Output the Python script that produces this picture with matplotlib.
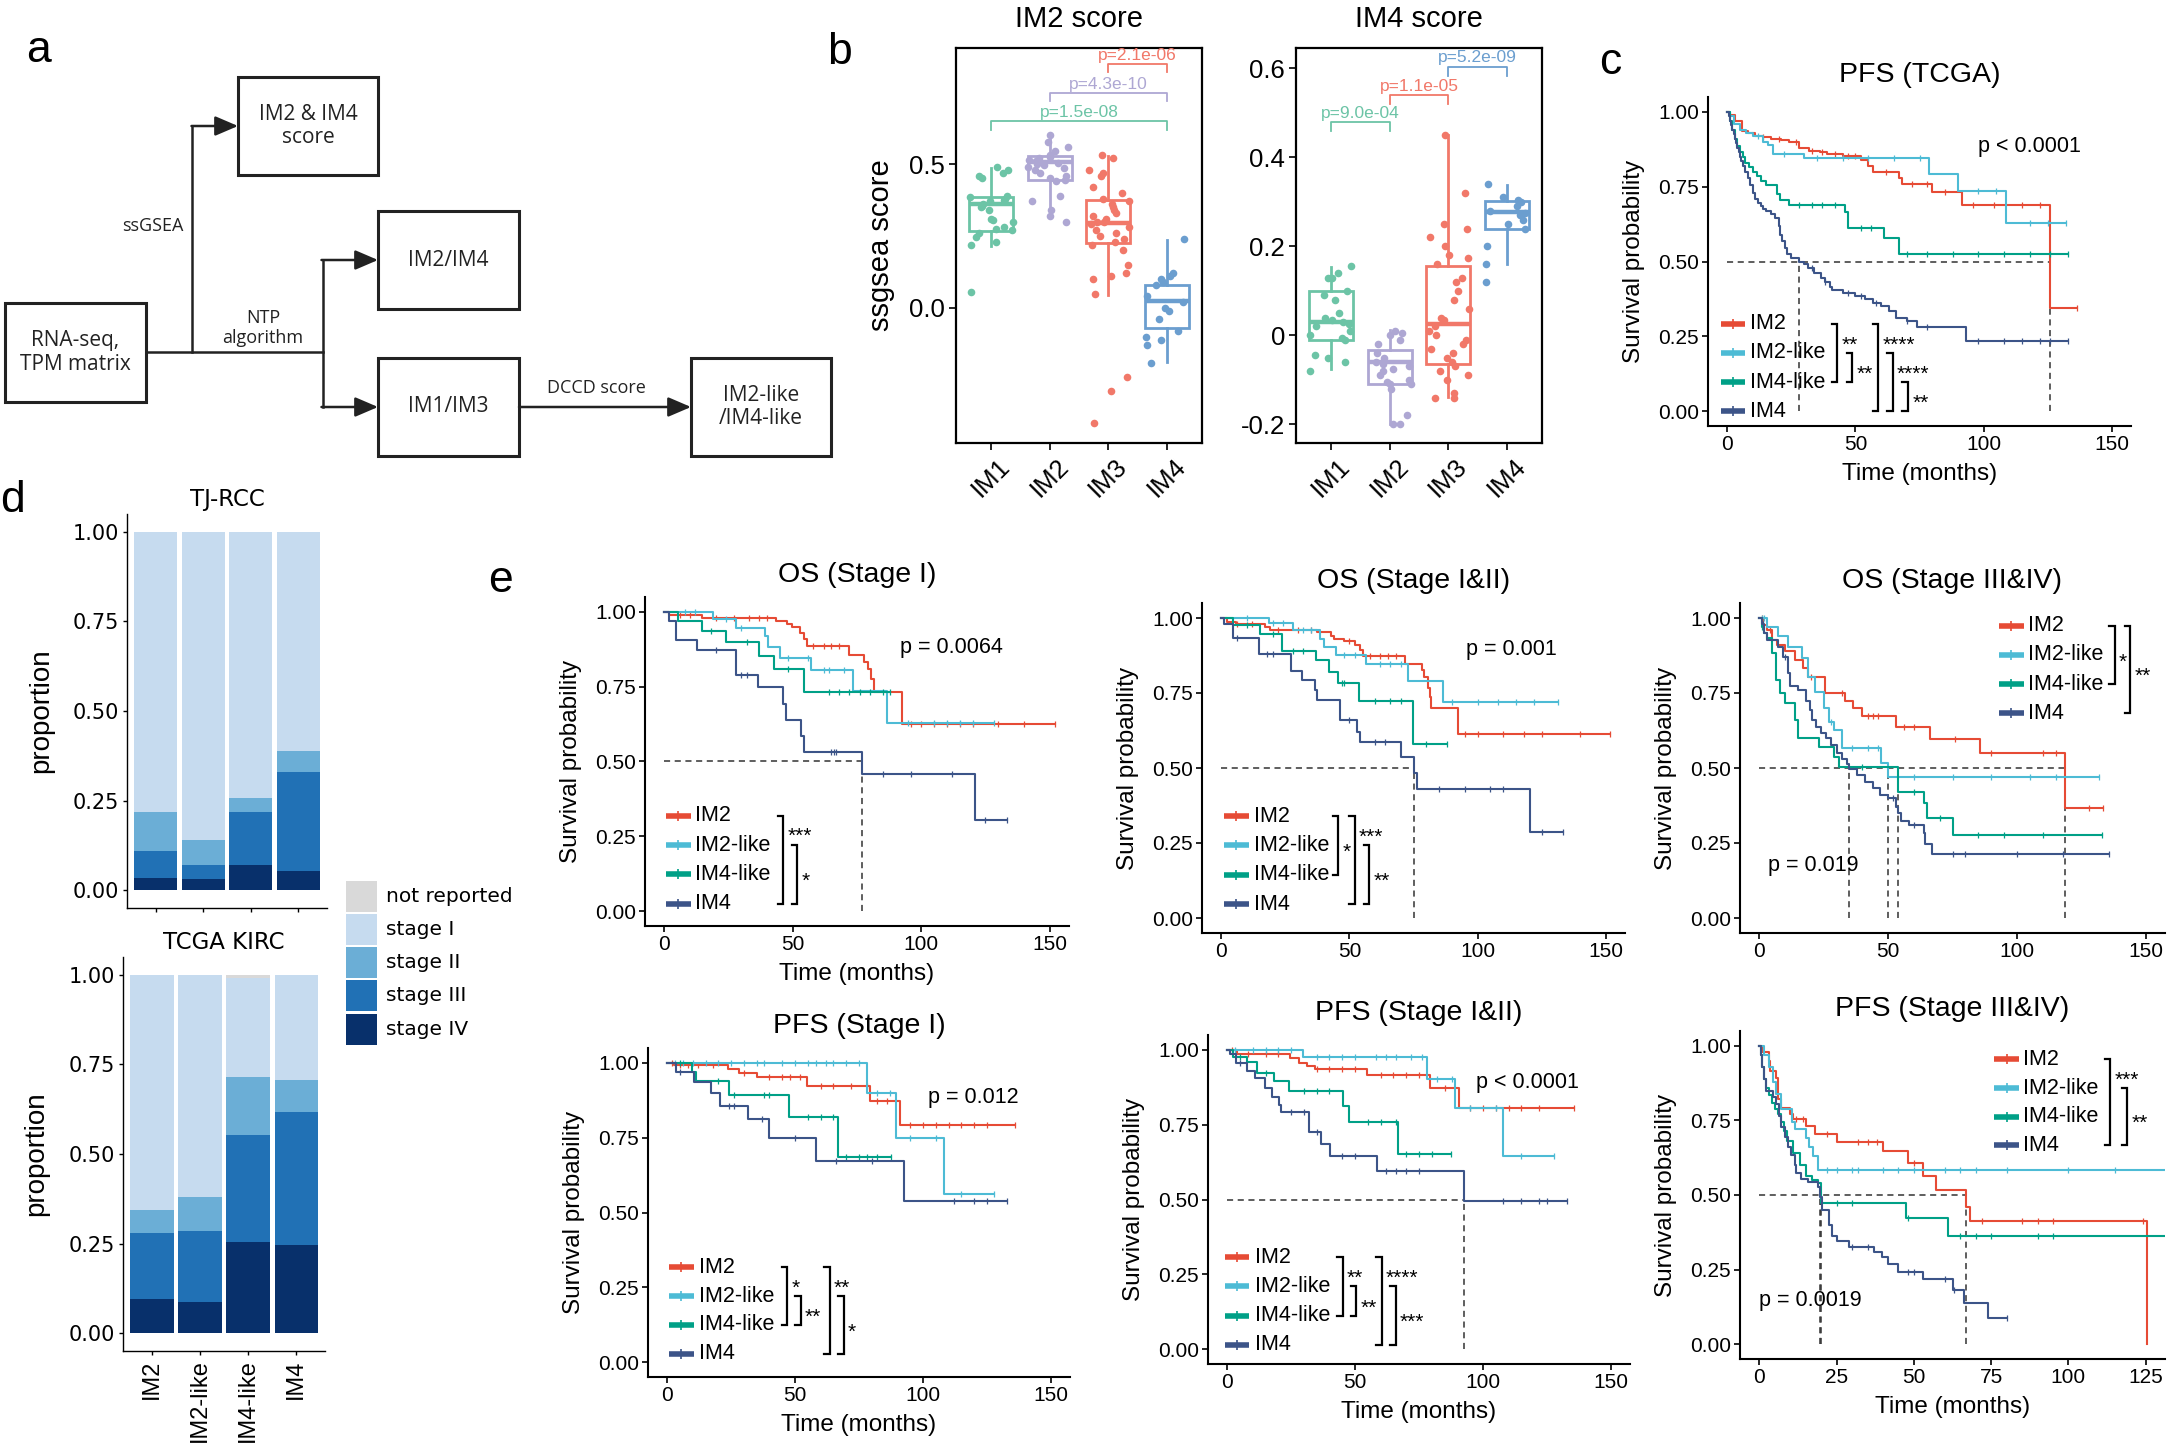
import numpy as np
import matplotlib
matplotlib.use("Agg")
import matplotlib.pyplot as plt
from matplotlib.patches import Rectangle

W, H = 2168, 1452
plt.rcParams['font.family'] = ['Liberation Sans', 'DejaVu Sans']
plt.rcParams['axes.linewidth'] = 1.3

# ---------------- panel b data ----------------
b_groups = ['IM1', 'IM2', 'IM3', 'IM4']
b_colors = ['#6CC4A6', '#AEA7D3', '#F17869', '#6B9ECF']

im2_points = [
    [0.49, 0.48, 0.47, 0.46, 0.45, 0.39, 0.385, 0.38, 0.375, 0.37, 0.36, 0.355, 0.35,
     0.34, 0.31, 0.305, 0.30, 0.28, 0.275, 0.27, 0.26, 0.245, 0.23, 0.22, 0.055],
    [0.60, 0.575, 0.56, 0.545, 0.53, 0.525, 0.52, 0.515, 0.51, 0.505, 0.50, 0.495, 0.49,
     0.485, 0.48, 0.47, 0.46, 0.45, 0.445, 0.44, 0.39, 0.37, 0.34, 0.32, 0.30],
    [0.53, 0.52, 0.48, 0.47, 0.46, 0.42, 0.40, 0.38, 0.37, 0.36, 0.35, 0.34, 0.33, 0.32,
     0.31, 0.30, 0.30, 0.29, 0.28, 0.27, 0.26, 0.25, 0.24, 0.23, 0.22, 0.20, 0.15, 0.12,
     0.11, 0.10, 0.05, -0.24, -0.29, -0.40],
    [0.24, 0.12, 0.11, 0.10, 0.09, 0.08, 0.04, 0.02, 0.0, -0.01, -0.04, -0.08, -0.10,
     -0.11, -0.13, -0.19],
]
im2_q1 = [0.268, 0.446, 0.226, -0.069]
im2_med = [0.362, 0.506, 0.295, 0.023]
im2_q3 = [0.385, 0.529, 0.376, 0.079]
im2_lo = [0.214, 0.347, 0.046, -0.189]
im2_hi = [0.486, 0.596, 0.527, 0.237]
im2_tests = [(1, 4, 'p=1.5e-08'), (2, 4, 'p=4.3e-10'), (3, 4, 'p=2.1e-06')]

im4_points = [
    [0.155, 0.14, 0.13, 0.13, 0.10, 0.09, 0.08, 0.05, 0.04, 0.035, 0.03, 0.025, 0.02,
     0.01, 0.0, -0.005, -0.01, -0.045, -0.05, -0.06, -0.08],
    [0.01, 0.005, 0.0, -0.01, -0.02, -0.04, -0.05, -0.06, -0.065, -0.07, -0.075, -0.08,
     -0.09, -0.10, -0.105, -0.11, -0.11, -0.12, -0.18, -0.20, -0.20],
    [0.45, 0.32, 0.25, 0.24, 0.22, 0.20, 0.18, 0.175, 0.16, 0.13, 0.12, 0.10, 0.08, 0.06,
     0.04, 0.035, 0.02, 0.01, 0.0, -0.01, -0.02, -0.03, -0.04, -0.05, -0.06, -0.07,
     -0.08, -0.09, -0.10, -0.13, -0.14, -0.14],
    [0.34, 0.31, 0.305, 0.30, 0.29, 0.28, 0.275, 0.27, 0.26, 0.25, 0.24, 0.20, 0.16, 0.12],
]
im4_q1 = [-0.011, -0.109, -0.064, 0.238]
im4_med = [0.030, -0.060, 0.026, 0.277]
im4_q3 = [0.099, -0.032, 0.156, 0.301]
im4_lo = [-0.075, -0.199, -0.139, 0.161]
im4_hi = [0.154, 0.011, 0.450, 0.337]
im4_tests = [(1, 2, 'p=9.0e-04'), (2, 3, 'p=1.1e-05'), (3, 4, 'p=5.2e-09')]

# ---------------- panel d data ----------------
d_groups = ['IM2', 'IM2-like', 'IM4-like', 'IM4']
stages = ['not reported', 'stage I', 'stage II', 'stage III', 'stage IV']
stage_colors = ['#D9D9D9', '#C6DBEF', '#6BAED6', '#2171B5', '#08306B']
tj_iv = [0.035, 0.031, 0.069, 0.054]
tj_iii = [0.074, 0.038, 0.149, 0.276]
tj_ii = [0.109, 0.071, 0.038, 0.058]
tj_i = [0.782, 0.860, 0.744, 0.612]
tj_nr = [0.0, 0.0, 0.0, 0.0]
tcga_iv = [0.095, 0.086, 0.253, 0.247]
tcga_iii = [0.184, 0.198, 0.299, 0.370]
tcga_ii = [0.066, 0.095, 0.164, 0.090]
tcga_i = [0.655, 0.621, 0.274, 0.293]
tcga_nr = [0.0, 0.0, 0.010, 0.0]

# ---------------- KM data: (event times, survival after event, last time, censor times) ----------------
km_groups = ['IM2', 'IM2-like', 'IM4-like', 'IM4']
km_colors = ['#E64B35', '#4DBBD5', '#00A087', '#3C5488']

pfs_tcga = {
    'IM2': ([1, 3, 5.6, 8, 11, 14, 17, 21, 24, 28, 32, 36, 39, 45, 52, 55, 57, 67, 68, 80, 91.4, 126],
            [0.99, 0.97, 0.935, 0.93, 0.92, 0.915, 0.91, 0.905, 0.90, 0.88, 0.87, 0.865, 0.86,
             0.852, 0.84, 0.818, 0.80, 0.78, 0.76, 0.732, 0.69, 0.345], 136.6,
            [14, 20, 27, 33, 37, 42, 47, 50, 62, 72, 78, 85, 96, 104, 115, 122, 136.6]),
    'IM2-like': ([1, 2.5, 5, 7.5, 10, 14, 16, 18, 30, 78.7, 90, 108.6],
                 [0.985, 0.96, 0.94, 0.93, 0.92, 0.90, 0.89, 0.86, 0.846, 0.794, 0.735, 0.629], 132,
                 [12, 22, 35, 45, 55, 65, 75, 98, 105, 118, 125, 132]),
    'IM4-like': ([1, 2, 3, 4, 5, 6, 7, 8.5, 10, 11.5, 13, 15, 19.5, 20.5, 24, 46, 47, 61, 67],
                 [0.97, 0.94, 0.91, 0.885, 0.865, 0.85, 0.83, 0.815, 0.80, 0.785, 0.77, 0.757,
                  0.725, 0.707, 0.69, 0.665, 0.612, 0.577, 0.526], 133,
                 [28, 33, 37, 42, 52, 56, 70, 78, 88, 98, 108, 118, 126, 133]),
    'IM4': ([0.5, 1, 1.5, 2, 2.5, 3, 3.5, 4, 4.5, 5, 5.5, 6, 7, 8, 9, 10, 11, 12, 13, 14, 15,
             17, 18.5, 20, 20.7, 21.5, 22.5, 23.5, 25, 28, 30, 31.7, 34, 36.7, 38, 40, 41, 45,
             50, 53.6, 57, 60, 63, 66, 70, 74, 93],
            [0.985, 0.97, 0.955, 0.94, 0.925, 0.91, 0.895, 0.88, 0.865, 0.85, 0.835, 0.82, 0.80,
             0.78, 0.755, 0.73, 0.71, 0.695, 0.685, 0.675, 0.668, 0.66, 0.646, 0.62, 0.59, 0.57,
             0.545, 0.525, 0.512, 0.50, 0.49, 0.477, 0.46, 0.445, 0.43, 0.415, 0.406, 0.395,
             0.385, 0.373, 0.362, 0.351, 0.335, 0.312, 0.30, 0.28, 0.234], 133,
            [33, 38, 47, 52, 58, 70, 78, 98, 108, 115, 122, 126, 133]),
}

os_stage1 = {
    'IM2': ([2, 14.8, 43.6, 47.6, 49.6, 53, 54.3, 55.7, 71.8, 77.8, 79.2, 80.5, 81.8, 92.6],
            [0.99, 0.979, 0.97, 0.96, 0.95, 0.93, 0.91, 0.886, 0.855, 0.834, 0.808, 0.775, 0.733, 0.627],
            151.9, [6, 10, 20, 27, 33, 37, 40, 58, 62, 65, 68, 96, 100, 105, 110, 115, 120, 130, 140, 151.9]),
    'IM2-like': ([18.8, 27.9, 39.2, 40.3, 45, 57, 73.4, 86.5],
                 [0.975, 0.948, 0.92, 0.883, 0.847, 0.805, 0.736, 0.63], 128.5,
                 [8, 12, 24, 30, 48, 56, 62, 64, 70, 95, 105, 110, 115, 120, 128.5]),
    'IM4-like': ([5.4, 14.8, 24.2, 36.9, 42.7, 54.3],
                 [0.97, 0.936, 0.90, 0.853, 0.81, 0.734], 88,
                 [18, 32, 48, 64, 68, 72, 76, 80, 85, 88]),
    'IM4': ([2, 4.7, 12.7, 27.8, 36.5, 46.3, 47.2, 53.3, 54.3, 76.9, 120.8],
            [0.97, 0.907, 0.873, 0.79, 0.749, 0.691, 0.639, 0.585, 0.532, 0.457, 0.303], 133.5,
            [20, 30, 32, 65, 66, 67, 85, 96, 112, 125, 133.5]),
}

os_stage12 = {
    'IM2': ([2.4, 5.8, 17.2, 19.2, 37.3, 42.7, 44, 48, 52, 54.1, 55.4, 71.8, 78.2, 79.2, 80.5, 81.3, 82, 92.3],
            [0.986, 0.98, 0.97, 0.961, 0.952, 0.941, 0.93, 0.922, 0.911, 0.894, 0.872, 0.846,
             0.827, 0.805, 0.766, 0.738, 0.70, 0.614], 151.6,
            [6, 12, 22, 30, 35, 50, 58, 62, 65, 68, 95, 100, 110, 118, 125, 140, 151.6]),
    'IM2-like': ([18.5, 27.9, 38.6, 40, 44.7, 56.5, 72.9, 86.7],
                 [0.983, 0.961, 0.93, 0.905, 0.877, 0.846, 0.79, 0.719], 131.5,
                 [10, 20, 24, 32, 35, 48, 52, 62, 66, 70, 90, 100, 108, 115, 122, 131.5]),
    'IM4-like': ([4.4, 15.2, 23.9, 37, 42, 45.7, 53.8, 74.9],
                 [0.977, 0.947, 0.891, 0.859, 0.82, 0.783, 0.725, 0.581], 88,
                 [10, 20, 28, 32, 47, 48, 60, 66, 70, 80, 88]),
    'IM4': ([1, 4.4, 14.8, 27.4, 31.7, 36.6, 37.3, 46.3, 53.1, 54.1, 70.2, 75.1, 76.5, 120.5],
            [0.98, 0.933, 0.88, 0.822, 0.794, 0.761, 0.727, 0.66, 0.621, 0.588, 0.536, 0.482,
             0.431, 0.286], 133.2,
            [6, 18, 20, 50, 60, 64, 85, 95, 105, 110, 125, 133.2]),
}

os_stage34 = {
    'IM2': ([1.5, 3, 5, 7, 10, 14, 17, 19, 25.5, 33.1, 36.3, 40, 53, 66.2, 85.5, 118.8],
            [0.978, 0.961, 0.928, 0.911, 0.889, 0.861, 0.833, 0.805, 0.75, 0.722, 0.70, 0.674,
             0.638, 0.597, 0.549, 0.367], 133.6,
            [1, 4, 20, 32, 42, 44, 46, 56, 60, 76, 90, 110, 115, 128, 133.6]),
    'IM2-like': ([3, 7.2, 11.1, 16.4, 19, 21.6, 25.3, 26.9, 28.8, 32.1, 47.2, 50],
                 [0.97, 0.939, 0.905, 0.866, 0.805, 0.755, 0.70, 0.655, 0.627, 0.566, 0.518, 0.471],
                 132, [1, 2, 28, 36, 42, 46, 60, 75, 90, 105, 115, 132]),
    'IM4-like': ([1, 2, 3, 5, 6.5, 8, 10, 14, 15, 23, 29, 31, 54, 64, 65, 75],
                 [0.97, 0.95, 0.933, 0.883, 0.794, 0.75, 0.718, 0.66, 0.60, 0.569, 0.538, 0.505,
                  0.42, 0.382, 0.334, 0.276], 133,
                 [1, 40, 60, 70, 85, 95, 110, 133]),
    'IM4': ([1, 2, 3, 7.2, 9, 11, 12, 15, 18, 19.5, 20.5, 22, 24, 26, 28, 30, 32, 34, 35, 38,
             41, 44, 47, 50, 53, 54, 55, 58, 64, 64.5, 67],
            [0.98, 0.95, 0.928, 0.905, 0.87, 0.816, 0.775, 0.76, 0.722, 0.694, 0.66, 0.638,
             0.618, 0.60, 0.577, 0.549, 0.53, 0.512, 0.496, 0.477, 0.454, 0.432, 0.41, 0.399,
             0.371, 0.349, 0.323, 0.31, 0.282, 0.246, 0.215], 135.8,
            [1.5, 10, 52, 60, 75, 80, 100, 118, 135.8]),
}

pfs_stage1 = {
    'IM2': ([2.7, 23.8, 27.9, 35.1, 54.5, 79.3, 91],
            [0.992, 0.981, 0.967, 0.952, 0.924, 0.874, 0.794], 135.9,
            [2, 5, 8, 12, 18, 30, 40, 45, 48, 52, 60, 65, 72, 78, 82, 86, 95, 100, 105, 110,
             115, 120, 125, 135.9]),
    'IM2-like': ([78, 89.3, 108.2], [0.90, 0.749, 0.562], 127.9,
                 [3, 6, 10, 15, 20, 25, 30, 35, 38, 45, 50, 55, 58, 62, 65, 70, 75, 82, 87,
                  95, 105, 115, 127.9]),
    'IM4-like': ([9.8, 11.4, 24.1, 47.8, 66.7], [0.97, 0.939, 0.894, 0.82, 0.686], 87.7,
                 [5, 20, 26, 38, 40, 55, 60, 65, 70, 75, 78, 82, 87.7]),
    'IM4': ([3.6, 10.4, 17, 20.8, 31.7, 39.9, 58.2, 92.7],
            [0.97, 0.935, 0.898, 0.857, 0.813, 0.749, 0.671, 0.538], 132.8,
            [5, 24, 26, 37, 50, 66, 80, 112, 120, 125, 132.8]),
}

pfs_stage12 = {
    'IM2': ([3.7, 24.4, 28.2, 31.1, 34.5, 54.5, 79.2, 90.8],
            [0.986, 0.974, 0.955, 0.946, 0.937, 0.916, 0.872, 0.807], 135.7,
            [2, 8, 15, 20, 35, 40, 45, 50, 60, 65, 70, 75, 85, 95, 100, 105, 110, 115, 122, 135.7]),
    'IM2-like': ([29.5, 78.1, 89.2, 107.9], [0.978, 0.902, 0.805, 0.644], 127.6,
                 [3, 10, 15, 20, 25, 35, 40, 45, 50, 58, 62, 66, 72, 76, 82, 88, 95, 105,
                  115, 127.6]),
    'IM4-like': ([2.4, 7.7, 11.8, 18.4, 24, 45.4, 47.8, 66.8],
                 [0.978, 0.96, 0.924, 0.896, 0.864, 0.813, 0.758, 0.653], 87.6,
                 [5, 15, 30, 35, 40, 55, 60, 66, 70, 75, 80, 87.6]),
    'IM4': ([1, 3.3, 7.7, 10.7, 14.8, 17.4, 20.4, 21.1, 31.8, 36.5, 40.2, 58.5, 92.6],
            [0.985, 0.958, 0.928, 0.905, 0.873, 0.844, 0.816, 0.793, 0.725, 0.686, 0.647,
             0.594, 0.494], 132.9,
            [5, 25, 30, 35, 45, 50, 62, 66, 70, 75, 108, 115, 122, 125, 132.9]),
}

pfs_stage34 = {
    'IM2': ([1, 3, 3.5, 5.5, 6, 7, 10, 11, 15, 18, 25, 40, 48, 53, 57, 67, 68, 125.5],
            [0.978, 0.95, 0.916, 0.894, 0.822, 0.792, 0.77, 0.755, 0.733, 0.705, 0.677, 0.646,
             0.607, 0.563, 0.516, 0.46, 0.413, 0.0], 125.5,
            [12, 14, 22, 32, 35, 38, 50, 72, 85, 90, 95, 124]),
    'IM2-like': ([1.5, 3, 4.5, 5.5, 7, 10.5, 11.5, 15, 16, 17.5, 19],
                 [0.97, 0.93, 0.88, 0.84, 0.79, 0.745, 0.72, 0.69, 0.66, 0.63, 0.585], 131,
                 [22, 25, 30, 32, 40, 45, 50, 60, 65, 70, 80, 100, 115]),
    'IM4-like': ([0.5, 1, 1.5, 2, 3, 4, 5, 6, 7, 8, 9, 11, 13, 15, 17, 19, 20, 47.5, 61],
                 [0.97, 0.93, 0.89, 0.86, 0.835, 0.81, 0.79, 0.77, 0.745, 0.715, 0.68, 0.64,
                  0.60, 0.565, 0.55, 0.54, 0.474, 0.423, 0.363], 131,
                 [25, 30, 48, 65, 70, 75, 90, 95]),
    'IM4': ([0.5, 1, 1.5, 2.2, 4.4, 5.5, 6.5, 7.1, 8.2, 9.3, 10.4, 11.5, 12, 13.6, 15.8, 19.1,
             19.7, 20.2, 22.4, 23.5, 25.1, 28.9, 37.1, 39.8, 41.5, 44.8, 53, 62.6, 66.3, 73.9],
            [0.97, 0.93, 0.89, 0.85, 0.827, 0.805, 0.766, 0.727, 0.694, 0.66, 0.633, 0.60,
             0.573, 0.555, 0.543, 0.527, 0.493, 0.449, 0.399, 0.362, 0.346, 0.326, 0.31,
             0.293, 0.267, 0.243, 0.217, 0.182, 0.137, 0.089], 80.2,
            [30, 35, 48, 50, 60, 63, 80.2]),
}

fig = plt.figure(figsize=(W / 100, H / 100), dpi=100)


def px_axes(x0, y0, x1, y1):
    return fig.add_axes([x0 / W, 1 - y1 / H, (x1 - x0) / W, (y1 - y0) / H])


# ---------------- overlay: panel a flowchart, panel letters, panel d legend ----------------
ov = fig.add_axes([0, 0, 1, 1])
ov.set_xlim(0, W)
ov.set_ylim(H, 0)
ov.axis('off')
ov.patch.set_alpha(0)

flow_boxes = [((5, 303, 146, 402), 'RNA-seq,\nTPM matrix'),
              ((238, 77, 378, 175), 'IM2 & IM4\nscore'),
              ((378, 211, 519, 309), 'IM2/IM4'),
              ((378, 358, 519, 456), 'IM1/IM3'),
              ((691, 358, 831, 456), 'IM2-like\n/IM4-like')]
ink = '#222222'
for (x0, y0, x1, y1), txt in flow_boxes:
    ov.add_patch(Rectangle((x0, y0), x1 - x0, y1 - y0, fill=False, lw=2.2, ec=ink))
    ov.text((x0 + x1) / 2, (y0 + y1) / 2, txt, ha='center', va='center', fontsize=15,
            family='Open Sans', linespacing=1.15, color=ink)

ov.plot([146, 322.5], [352, 352], color=ink, lw=1.8)
ov.plot([192.4, 192.4], [352, 126], color=ink, lw=1.8)
ov.plot([322.5, 322.5], [260, 407], color=ink, lw=1.8)
arrow_kw = dict(arrowstyle='-|>,head_length=0.7,head_width=0.3', color=ink, lw=1.8,
                shrinkA=0, shrinkB=0, mutation_scale=20)
for xa, xb, y in [(191.5, 238, 126), (321.5, 378, 260), (321.5, 378, 407), (519, 691, 407)]:
    ov.annotate('', xy=(xb, y), xytext=(xa, y), arrowprops=arrow_kw)
ov.text(153, 226, 'ssGSEA', ha='center', va='center', fontsize=13, family='Open Sans', color=ink)
ov.text(263, 328, 'NTP\nalgorithm', ha='center', va='center', fontsize=13, family='Open Sans',
        color=ink, linespacing=1.1)
ov.text(596, 388, 'DCCD score', ha='center', va='center', fontsize=13, family='Open Sans', color=ink)

for lab, x, y in [('a', 38, 50), ('b', 840, 52), ('c', 1610, 63), ('d', 12, 500), ('e', 500, 581)]:
    ov.text(x, y, lab, ha='center', va='center', fontsize=32)

# ---------------- panel b ----------------
rng = np.random.default_rng(7)


def box_panel(rect, title, points, q1, med, q3, lo, hi, tests, yticks, yticklabels, ylim,
              bracket_y, tip, ylabel=None):
    ax = px_axes(*rect)
    stats = [dict(q1=a, med=m, q3=b, whislo=l, whishi=h, fliers=[])
             for a, m, b, l, h in zip(q1, med, q3, lo, hi)]
    pos = np.arange(1, 5)
    bp = ax.bxp(stats, positions=pos, widths=0.75, patch_artist=True, showfliers=False,
                showcaps=False)
    for i, c in enumerate(b_colors):
        bp['boxes'][i].set(facecolor='white', edgecolor=c, lw=2.0)
        bp['medians'][i].set(color=c, lw=3.2)
        for w in bp['whiskers'][2 * i:2 * i + 2]:
            w.set(color=c, lw=2.0)
    for i, (vals, c) in enumerate(zip(points, b_colors)):
        jit = rng.uniform(-0.37, 0.37, len(vals))
        ax.scatter(pos[i] + jit, vals, s=30, color=c, zorder=4, lw=0)
    for (g1, g2, txt), yb in zip(tests, bracket_y):
        c = b_colors[g1 - 1] if txt not in ('p=1.1e-05', 'p=5.2e-09') else b_colors[g2 - 1]
        ax.plot([g1, g1, g2, g2], [yb - tip, yb, yb, yb - tip], color=c, lw=1.3)
        ax.text((g1 + g2) / 2, yb + tip * 0.15, txt, color=c, ha='center', va='bottom',
                fontsize=12.5)
    ax.set_xlim(0.4, 4.6)
    ax.set_ylim(*ylim)
    ax.set_yticks(yticks)
    ax.set_yticklabels(yticklabels)
    ax.set_xticks(pos)
    ax.set_xticklabels(b_groups, rotation=45, ha='center', va='top')
    ax.tick_params(labelsize=18.5, length=5, width=1.2, pad=3)
    for sp in ax.spines.values():
        sp.set_linewidth(1.6)
    ax.text(0.5, 1.073, title, transform=ax.transAxes, ha='center', va='center', fontsize=21)
    if ylabel:
        ax.text(-0.305, 0.5, ylabel, transform=ax.transAxes, rotation=90, ha='center',
                va='center', fontsize=21)
    return ax


box_panel((956, 48, 1202, 443), 'IM2 score', im2_points, im2_q1, im2_med, im2_q3, im2_lo,
          im2_hi, im2_tests, [0.0, 0.5], ['0.0', '0.5'], (-0.469, 0.903),
          [0.648, 0.747, 0.847], 0.029, ylabel='ssgsea score')
box_panel((1296, 48, 1542, 443), 'IM4 score', im4_points, im4_q1, im4_med, im4_q3, im4_lo,
          im4_hi, im4_tests, [-0.2, 0, 0.2, 0.4, 0.6], ['-0.2', '0', '0.2', '0.4', '0.6'],
          (-0.242, 0.646), [0.48, 0.54, 0.604], 0.02)

# ---------------- KM panels ----------------
dash = dict(color='#333333', lw=1.1, ls=(0, (4, 3)))


def km_panel(rect, title, curves, ptxt, pxy, legend, brackets, xmax=150, xstep=50,
             xlabel=True):
    ax = px_axes(*rect)
    pad = xmax * 0.05
    ax.set_xlim(-pad, xmax + pad)
    ax.set_ylim(-0.05, 1.05)
    medians = []
    for g, col in zip(km_groups, km_colors):
        t, s, end, cens = curves[g]
        tt = np.r_[0, t, end]
        ss = np.r_[1, s, s[-1]]
        ax.step(tt, ss, where='post', color=col, lw=1.5, zorder=3)
        idx = np.searchsorted(tt, cens, side='right') - 1
        ax.plot(cens, ss[idx], ls='none', marker='|', ms=4.5, mew=0.9, color=col, zorder=3)
        below = np.nonzero(np.asarray(s) <= 0.5)[0]
        if len(below):
            medians.append(t[below[0]])
    if medians:
        ax.plot([0, max(medians)], [0.5, 0.5], zorder=2, **dash)
        for m in medians:
            ax.plot([m, m], [0, 0.5], zorder=2, **dash)

    lx0, lx1, ltx, ly0, ldy = legend
    for i, (g, col) in enumerate(zip(km_groups, km_colors)):
        y = ly0 - i * ldy
        ax.plot([lx0, lx1], [y, y], color=col, lw=4, solid_capstyle='butt', clip_on=False)
        ax.plot([(lx0 + lx1) / 2], [y], marker='|', color=col, ms=7, mew=1.2, clip_on=False)
        ax.text(ltx, y, g, ha='left', va='center', fontsize=15.5)
    tick = (xmax + 2 * pad) * 0.013
    for a, b, x, lab, lr in brackets:
        ya, yb = ly0 - a * ldy, ly0 - b * ldy
        ax.plot([x - tick, x, x, x - tick], [ya, ya, yb, yb], color='black', lw=1.6,
                clip_on=False, solid_joinstyle='miter')
        ax.annotate(lab, (x, ly0 - lr * ldy), xytext=(3, -9), textcoords='offset points',
                    ha='left', va='baseline', fontsize=15)

    ax.text(pxy[0], pxy[1], ptxt, ha='left', va='center', fontsize=15.5)
    ax.set_xticks(np.arange(0, xmax + 1, xstep))
    ax.set_yticks([0, 0.25, 0.5, 0.75, 1.0])
    ax.set_yticklabels(['0.00', '0.25', '0.50', '0.75', '1.00'])
    ax.tick_params(labelsize=15, length=4, width=1.2, pad=2.5)
    for sp in ('top', 'right'):
        ax.spines[sp].set_visible(False)
    for sp in ('left', 'bottom'):
        ax.spines[sp].set_linewidth(1.5)
    ax.text(0.5, 1.068, title, transform=ax.transAxes, ha='center', va='center', fontsize=20.5)
    ax.text(-0.175, 0.5, 'Survival probability', transform=ax.transAxes, rotation=90,
            ha='center', va='center', fontsize=17.5)
    if xlabel:
        ax.text(0.5, -0.145, 'Time (months)', transform=ax.transAxes, ha='center',
                va='center', fontsize=17.5)
    return ax


km_panel((1708, 97, 2131, 426), 'PFS (TCGA)', pfs_tcga, 'p < 0.0001', (98, 0.885),
         (-2.4, 7, 8.9, 0.292, 0.0975),
         [(0, 2, 43, '**', 0.5), (1, 2, 48.7, '**', 1.5), (0, 3, 59, '****', 0.5),
          (1, 3, 64.6, '****', 1.5), (2, 3, 70.5, '**', 2.5)])
km_panel((645, 597, 1069, 926), 'OS (Stage I)', os_stage1, 'p = 0.0064', (91.9, 0.881),
         (0.7, 10.3, 12.1, 0.318, 0.0977),
         [(0, 3, 46.3, '***', 0.45), (1, 3, 51.7, '*', 2.0)])
km_panel((1202, 603, 1625, 933), 'OS (Stage I&II)', os_stage12, 'p = 0.001', (95.3, 0.894),
         (1.1, 10.7, 12.7, 0.34, 0.098),
         [(0, 2, 45.7, '*', 1.0), (0, 3, 52, '***', 0.5), (1, 3, 57.8, '**', 2.0)],
         xlabel=False)
km_panel((1740, 603, 2165, 933), 'OS (Stage III&IV)', os_stage34, 'p = 0.019', (3.3, 0.176),
         (93, 102.8, 104.5, 0.974, 0.097),
         [(0, 2, 138, '*', 1.0), (0, 3, 144, '**', 1.5)], xlabel=False)
km_panel((648, 1048, 1070, 1377), 'PFS (Stage I)', pfs_stage1, 'p = 0.012', (101.8, 0.885),
         (0.7, 10.3, 12.3, 0.317, 0.0963),
         [(0, 2, 46.9, '*', 0.5), (1, 2, 52.2, '**', 1.5), (0, 3, 63.6, '**', 0.5),
          (1, 3, 69, '*', 2.0)])
km_panel((1208, 1035, 1630, 1364), 'PFS (Stage I&II)', pfs_stage12, 'p < 0.0001', (97.2, 0.891),
         (-0.9, 8.7, 10.7, 0.307, 0.0975),
         [(0, 2, 45.1, '**', 0.5), (1, 2, 50.5, '**', 1.5), (0, 3, 60.5, '****', 0.5),
          (1, 3, 65.9, '***', 2.0)])
km_panel((1740, 1031, 2165, 1359), 'PFS (Stage III&IV)', pfs_stage34, 'p = 0.0019', (0, 0.146),
         (75.9, 84.1, 85.4, 0.955, 0.0963),
         [(0, 3, 113.5, '***', 0.5), (1, 3, 119, '**', 2.0)], xmax=125, xstep=25)

# ---------------- panel d ----------------
def stage_panel(rect, title, layers, show_x):
    ax = px_axes(*rect)
    x = np.arange(1, 5)
    bottom = np.zeros(4)
    # stack from stage IV upward
    for vals, col in zip(layers, stage_colors[::-1]):
        ax.bar(x, vals, bottom=bottom, width=0.9, color=col, lw=0)
        bottom += np.asarray(vals)
    ax.set_xlim(0.4, 4.6)
    ax.set_ylim(-0.05, 1.05)
    ax.set_yticks([0, 0.25, 0.5, 0.75, 1.0])
    ax.set_yticklabels(['0.00', '0.25', '0.50', '0.75', '1.00'], family='DejaVu Sans')
    ax.set_xticks(x)
    if show_x:
        ax.set_xticklabels(d_groups, rotation=90, fontsize=17)
    else:
        ax.set_xticklabels([])
    ax.tick_params(axis='y', labelsize=15)
    ax.tick_params(length=3, width=1.0, pad=3)
    for sp in ('top', 'right'):
        ax.spines[sp].set_visible(False)
    for sp in ('left', 'bottom'):
        ax.spines[sp].set_linewidth(1.0)
    ax.text(0.5, 1.037, title, transform=ax.transAxes, ha='center', va='center',
            fontsize=16.5, family='DejaVu Sans')
    ax.text(-0.43, 0.5, 'proportion', transform=ax.transAxes, rotation=90, ha='center',
            va='center', fontsize=20)
    return ax


stage_panel((127, 514, 327, 908), 'TJ-RCC', [tj_iv, tj_iii, tj_ii, tj_i, tj_nr], False)
stage_panel((123, 957, 325, 1351), 'TCGA KIRC',
            [tcga_iv, tcga_iii, tcga_ii, tcga_i, tcga_nr], True)

for i, (lab, col) in enumerate(zip(stages, stage_colors)):
    yc = 896 + i * 33.3
    ov.add_patch(Rectangle((346, yc - 15.5), 31, 31, color=col, lw=0))
    ov.text(386, yc, lab, ha='left', va='center', fontsize=14.5, family='DejaVu Sans')

fig.savefig('out.png', dpi=100)
